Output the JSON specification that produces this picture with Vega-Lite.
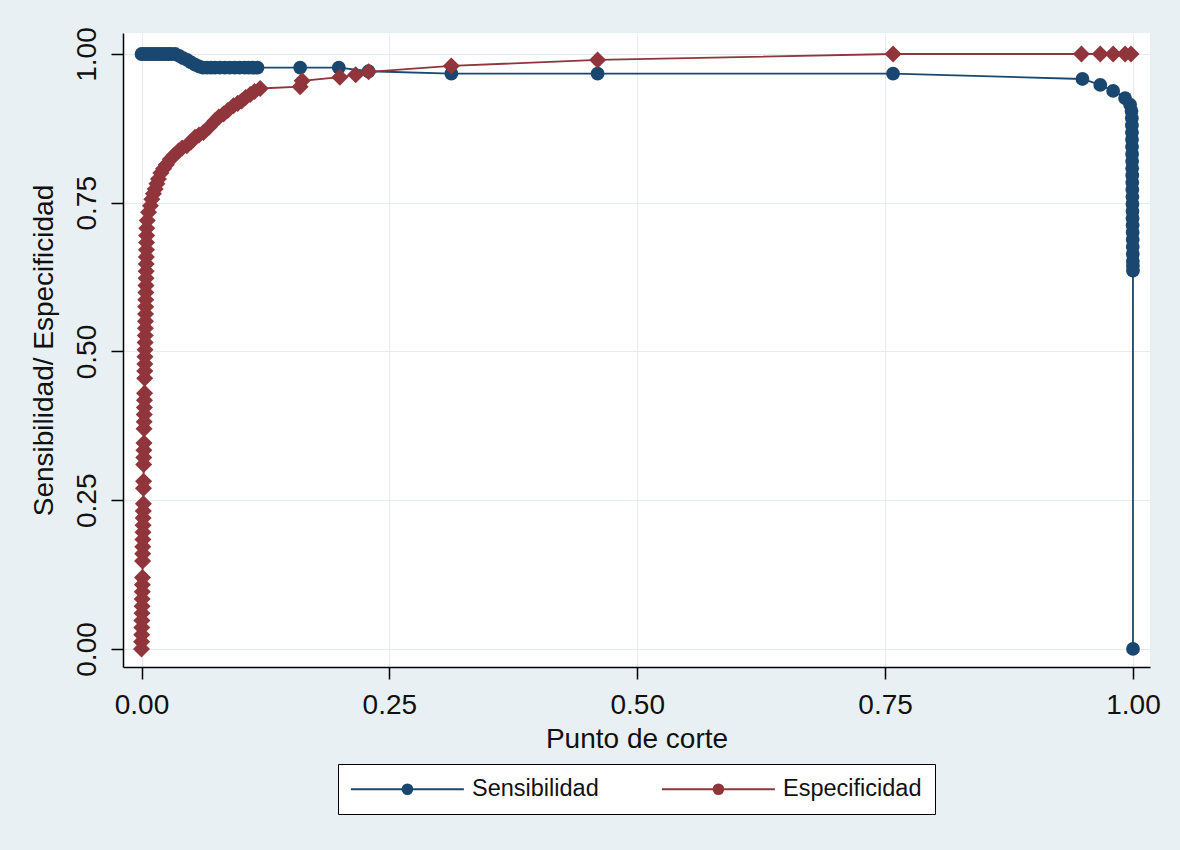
{
  "$schema": "https://vega.github.io/schema/vega-lite/v6.json",
  "width": 1027,
  "height": 634,
  "autosize": {"type": "none"},
  "padding": {"left": 123, "top": 33, "right": 30, "bottom": 183},
  "background": "#E9F0F3",
  "config": {
    "font": "Liberation Sans",
    "view": {"stroke": null, "fill": "white"},
    "axis": {
      "labelFont": "Liberation Sans",
      "titleFont": "Liberation Sans",
      "labelFontSize": 28,
      "titleFontSize": 28,
      "titleFontWeight": "normal",
      "labelColor": "#111111",
      "titleColor": "#111111",
      "domainColor": "#000000",
      "domainWidth": 1.5,
      "tickColor": "#000000",
      "tickWidth": 1.5,
      "tickSize": 12,
      "gridColor": "#E4ECEF",
      "gridWidth": 1
    }
  },
  "data": {
    "values": [
      {"s": "Sensibilidad", "x": 0.0, "y": 1.0},
      {"s": "Sensibilidad", "x": 0.003, "y": 1.0},
      {"s": "Sensibilidad", "x": 0.006, "y": 1.0},
      {"s": "Sensibilidad", "x": 0.009, "y": 1.0},
      {"s": "Sensibilidad", "x": 0.012, "y": 1.0},
      {"s": "Sensibilidad", "x": 0.015, "y": 1.0},
      {"s": "Sensibilidad", "x": 0.018, "y": 1.0},
      {"s": "Sensibilidad", "x": 0.021, "y": 1.0},
      {"s": "Sensibilidad", "x": 0.024, "y": 1.0},
      {"s": "Sensibilidad", "x": 0.027, "y": 1.0},
      {"s": "Sensibilidad", "x": 0.030, "y": 1.0},
      {"s": "Sensibilidad", "x": 0.034, "y": 1.0},
      {"s": "Sensibilidad", "x": 0.038, "y": 0.997},
      {"s": "Sensibilidad", "x": 0.042, "y": 0.993},
      {"s": "Sensibilidad", "x": 0.046, "y": 0.99},
      {"s": "Sensibilidad", "x": 0.050, "y": 0.986},
      {"s": "Sensibilidad", "x": 0.054, "y": 0.982},
      {"s": "Sensibilidad", "x": 0.058, "y": 0.979},
      {"s": "Sensibilidad", "x": 0.062, "y": 0.977},
      {"s": "Sensibilidad", "x": 0.066, "y": 0.977},
      {"s": "Sensibilidad", "x": 0.070, "y": 0.977},
      {"s": "Sensibilidad", "x": 0.074, "y": 0.977},
      {"s": "Sensibilidad", "x": 0.079, "y": 0.977},
      {"s": "Sensibilidad", "x": 0.084, "y": 0.977},
      {"s": "Sensibilidad", "x": 0.089, "y": 0.977},
      {"s": "Sensibilidad", "x": 0.094, "y": 0.977},
      {"s": "Sensibilidad", "x": 0.099, "y": 0.977},
      {"s": "Sensibilidad", "x": 0.104, "y": 0.977},
      {"s": "Sensibilidad", "x": 0.108, "y": 0.977},
      {"s": "Sensibilidad", "x": 0.112, "y": 0.977},
      {"s": "Sensibilidad", "x": 0.117, "y": 0.977},
      {"s": "Sensibilidad", "x": 0.16, "y": 0.977},
      {"s": "Sensibilidad", "x": 0.199, "y": 0.977},
      {"s": "Sensibilidad", "x": 0.229, "y": 0.971},
      {"s": "Sensibilidad", "x": 0.3125, "y": 0.967},
      {"s": "Sensibilidad", "x": 0.46, "y": 0.967},
      {"s": "Sensibilidad", "x": 0.758, "y": 0.967},
      {"s": "Sensibilidad", "x": 0.949, "y": 0.958},
      {"s": "Sensibilidad", "x": 0.967, "y": 0.948},
      {"s": "Sensibilidad", "x": 0.98, "y": 0.938},
      {"s": "Sensibilidad", "x": 0.992, "y": 0.926},
      {"s": "Sensibilidad", "x": 0.997, "y": 0.915},
      {"s": "Sensibilidad", "x": 0.9985, "y": 0.904},
      {"s": "Sensibilidad", "x": 0.99885, "y": 0.892},
      {"s": "Sensibilidad", "x": 0.9989, "y": 0.88},
      {"s": "Sensibilidad", "x": 0.99895, "y": 0.868},
      {"s": "Sensibilidad", "x": 0.999, "y": 0.856},
      {"s": "Sensibilidad", "x": 0.99905, "y": 0.844},
      {"s": "Sensibilidad", "x": 0.9991, "y": 0.832},
      {"s": "Sensibilidad", "x": 0.99915, "y": 0.82},
      {"s": "Sensibilidad", "x": 0.9992, "y": 0.808},
      {"s": "Sensibilidad", "x": 0.99925, "y": 0.796},
      {"s": "Sensibilidad", "x": 0.9993, "y": 0.784},
      {"s": "Sensibilidad", "x": 0.99935, "y": 0.772},
      {"s": "Sensibilidad", "x": 0.9994, "y": 0.76},
      {"s": "Sensibilidad", "x": 0.99945, "y": 0.748},
      {"s": "Sensibilidad", "x": 0.9995, "y": 0.736},
      {"s": "Sensibilidad", "x": 0.99955, "y": 0.724},
      {"s": "Sensibilidad", "x": 0.9996, "y": 0.712},
      {"s": "Sensibilidad", "x": 0.99965, "y": 0.7},
      {"s": "Sensibilidad", "x": 0.9997, "y": 0.688},
      {"s": "Sensibilidad", "x": 0.99975, "y": 0.676},
      {"s": "Sensibilidad", "x": 0.9998, "y": 0.664},
      {"s": "Sensibilidad", "x": 0.99985, "y": 0.652},
      {"s": "Sensibilidad", "x": 0.9999, "y": 0.644},
      {"s": "Sensibilidad", "x": 0.99995, "y": 0.636},
      {"s": "Sensibilidad", "x": 1.0, "y": 0.0},
      {"s": "Especificidad", "x": 0.0, "y": 0.0},
      {"s": "Especificidad", "x": 0.0001, "y": 0.012},
      {"s": "Especificidad", "x": 0.0002, "y": 0.024},
      {"s": "Especificidad", "x": 0.0003, "y": 0.036},
      {"s": "Especificidad", "x": 0.0004, "y": 0.048},
      {"s": "Especificidad", "x": 0.0005, "y": 0.06},
      {"s": "Especificidad", "x": 0.0006, "y": 0.072},
      {"s": "Especificidad", "x": 0.0007, "y": 0.084},
      {"s": "Especificidad", "x": 0.0008, "y": 0.096},
      {"s": "Especificidad", "x": 0.0009, "y": 0.108},
      {"s": "Especificidad", "x": 0.001, "y": 0.12},
      {"s": "Especificidad", "x": 0.0011, "y": 0.148},
      {"s": "Especificidad", "x": 0.0012, "y": 0.16},
      {"s": "Especificidad", "x": 0.0013, "y": 0.172},
      {"s": "Especificidad", "x": 0.0014, "y": 0.184},
      {"s": "Especificidad", "x": 0.0015, "y": 0.196},
      {"s": "Especificidad", "x": 0.0016, "y": 0.208},
      {"s": "Especificidad", "x": 0.0017, "y": 0.22},
      {"s": "Especificidad", "x": 0.0018, "y": 0.232},
      {"s": "Especificidad", "x": 0.0019, "y": 0.244},
      {"s": "Especificidad", "x": 0.002, "y": 0.27},
      {"s": "Especificidad", "x": 0.0021, "y": 0.282},
      {"s": "Especificidad", "x": 0.0022, "y": 0.31},
      {"s": "Especificidad", "x": 0.0023, "y": 0.322},
      {"s": "Especificidad", "x": 0.0024, "y": 0.334},
      {"s": "Especificidad", "x": 0.0025, "y": 0.346},
      {"s": "Especificidad", "x": 0.0026, "y": 0.37},
      {"s": "Especificidad", "x": 0.0027, "y": 0.382},
      {"s": "Especificidad", "x": 0.0028, "y": 0.394},
      {"s": "Especificidad", "x": 0.0029, "y": 0.406},
      {"s": "Especificidad", "x": 0.003, "y": 0.418},
      {"s": "Especificidad", "x": 0.0031, "y": 0.43},
      {"s": "Especificidad", "x": 0.0032, "y": 0.455},
      {"s": "Especificidad", "x": 0.0033, "y": 0.467},
      {"s": "Especificidad", "x": 0.0034, "y": 0.479},
      {"s": "Especificidad", "x": 0.0035, "y": 0.491},
      {"s": "Especificidad", "x": 0.0036, "y": 0.503},
      {"s": "Especificidad", "x": 0.0037, "y": 0.515},
      {"s": "Especificidad", "x": 0.0038, "y": 0.527},
      {"s": "Especificidad", "x": 0.0039, "y": 0.539},
      {"s": "Especificidad", "x": 0.004, "y": 0.551},
      {"s": "Especificidad", "x": 0.0041, "y": 0.563},
      {"s": "Especificidad", "x": 0.0042, "y": 0.575},
      {"s": "Especificidad", "x": 0.0043, "y": 0.587},
      {"s": "Especificidad", "x": 0.0044, "y": 0.599},
      {"s": "Especificidad", "x": 0.0045, "y": 0.611},
      {"s": "Especificidad", "x": 0.0046, "y": 0.623},
      {"s": "Especificidad", "x": 0.0047, "y": 0.635},
      {"s": "Especificidad", "x": 0.0048, "y": 0.647},
      {"s": "Especificidad", "x": 0.0049, "y": 0.659},
      {"s": "Especificidad", "x": 0.005, "y": 0.671},
      {"s": "Especificidad", "x": 0.0051, "y": 0.683},
      {"s": "Especificidad", "x": 0.0052, "y": 0.695},
      {"s": "Especificidad", "x": 0.0053, "y": 0.707},
      {"s": "Especificidad", "x": 0.0058, "y": 0.72},
      {"s": "Especificidad", "x": 0.0071, "y": 0.734},
      {"s": "Especificidad", "x": 0.009, "y": 0.745},
      {"s": "Especificidad", "x": 0.0104, "y": 0.756},
      {"s": "Especificidad", "x": 0.012, "y": 0.765},
      {"s": "Especificidad", "x": 0.0138, "y": 0.773},
      {"s": "Especificidad", "x": 0.0155, "y": 0.782},
      {"s": "Especificidad", "x": 0.0171, "y": 0.79},
      {"s": "Especificidad", "x": 0.0195, "y": 0.8},
      {"s": "Especificidad", "x": 0.0222, "y": 0.807},
      {"s": "Especificidad", "x": 0.025, "y": 0.814},
      {"s": "Especificidad", "x": 0.029, "y": 0.823},
      {"s": "Especificidad", "x": 0.033, "y": 0.83},
      {"s": "Especificidad", "x": 0.0373, "y": 0.837},
      {"s": "Especificidad", "x": 0.041, "y": 0.842},
      {"s": "Especificidad", "x": 0.0457, "y": 0.846},
      {"s": "Especificidad", "x": 0.05, "y": 0.852},
      {"s": "Especificidad", "x": 0.054, "y": 0.86},
      {"s": "Especificidad", "x": 0.058, "y": 0.864},
      {"s": "Especificidad", "x": 0.0625, "y": 0.868},
      {"s": "Especificidad", "x": 0.068, "y": 0.877},
      {"s": "Especificidad", "x": 0.0743, "y": 0.888},
      {"s": "Especificidad", "x": 0.078, "y": 0.894},
      {"s": "Especificidad", "x": 0.0827, "y": 0.899},
      {"s": "Especificidad", "x": 0.087, "y": 0.905},
      {"s": "Especificidad", "x": 0.0927, "y": 0.913},
      {"s": "Especificidad", "x": 0.097, "y": 0.917},
      {"s": "Especificidad", "x": 0.101, "y": 0.921},
      {"s": "Especificidad", "x": 0.105, "y": 0.927},
      {"s": "Especificidad", "x": 0.1096, "y": 0.932},
      {"s": "Especificidad", "x": 0.114, "y": 0.937},
      {"s": "Especificidad", "x": 0.1197, "y": 0.942},
      {"s": "Especificidad", "x": 0.16, "y": 0.945},
      {"s": "Especificidad", "x": 0.162, "y": 0.955},
      {"s": "Especificidad", "x": 0.2, "y": 0.961},
      {"s": "Especificidad", "x": 0.216, "y": 0.965},
      {"s": "Especificidad", "x": 0.229, "y": 0.97},
      {"s": "Especificidad", "x": 0.3125, "y": 0.98},
      {"s": "Especificidad", "x": 0.46, "y": 0.99},
      {"s": "Especificidad", "x": 0.758, "y": 1.0},
      {"s": "Especificidad", "x": 0.948, "y": 1.0},
      {"s": "Especificidad", "x": 0.967, "y": 1.0},
      {"s": "Especificidad", "x": 0.98, "y": 1.0},
      {"s": "Especificidad", "x": 0.992, "y": 1.0},
      {"s": "Especificidad", "x": 0.998, "y": 1.0}
    ]
  },
  "encoding": {
    "x": {
      "field": "x",
      "type": "quantitative",
      "scale": {"domain": [-0.01866, 1.01715], "nice": false, "zero": false},
      "axis": {
        "values": [0, 0.25, 0.5, 0.75, 1],
        "format": ".2f",
        "title": "Punto de corte",
        "labelPadding": 12,
        "titlePadding": 6,
        "grid": true
      }
    },
    "y": {
      "field": "y",
      "type": "quantitative",
      "scale": {"domain": [-0.0303, 1.0353], "nice": false, "zero": false},
      "axis": {
        "values": [0, 0.25, 0.5, 0.75, 1],
        "format": ".2f",
        "title": "Sensibilidad/ Especificidad",
        "labelAngle": -90,
        "labelAlign": "center",
        "labelBaseline": "bottom",
        "labelPadding": 10,
        "titlePadding": 15,
        "grid": true
      }
    },
    "color": {
      "field": "s",
      "type": "nominal",
      "scale": {"domain": ["Sensibilidad", "Especificidad"], "range": ["#1A476F", "#90353B"]},
      "legend": {
        "title": null,
        "orient": "none",
        "legendX": 215,
        "legendY": 731,
        "direction": "horizontal",
        "columns": 2,
        "columnPadding": 58,
        "padding": 13,
        "fillColor": "white",
        "strokeColor": "black",
        "labelFont": "Liberation Sans",
        "labelFontSize": 23.5,
        "labelColor": "#111111",
        "labelOffset": 97,
        "labelLimit": 400,
        "symbolType": "M-1.1,0L9.17,0M3.6,0A0.44,0.44 0 1 0 4.48,0A0.44,0.44 0 1 0 3.6,0Z",
        "symbolSize": 484,
        "symbolStrokeWidth": 2,
        "encode": {
          "symbols": {
            "update": {
              "fill": {"scale": "color", "field": "value"},
              "stroke": {"scale": "color", "field": "value"},
              "fillOpacity": {"value": 1},
              "strokeOpacity": {"value": 1}
            }
          }
        }
      }
    }
  },
  "layer": [
    {
      "transform": [{"filter": "datum.s === 'Sensibilidad'"}],
      "mark": {"type": "line", "strokeWidth": 1.8, "point": {"filled": true, "size": 190, "shape": "circle", "opacity": 1}}
    },
    {
      "transform": [{"filter": "datum.s === 'Especificidad'"}],
      "mark": {"type": "line", "strokeWidth": 1.8, "point": {"filled": true, "size": 290, "shape": "diamond", "opacity": 1}}
    }
  ]
}
